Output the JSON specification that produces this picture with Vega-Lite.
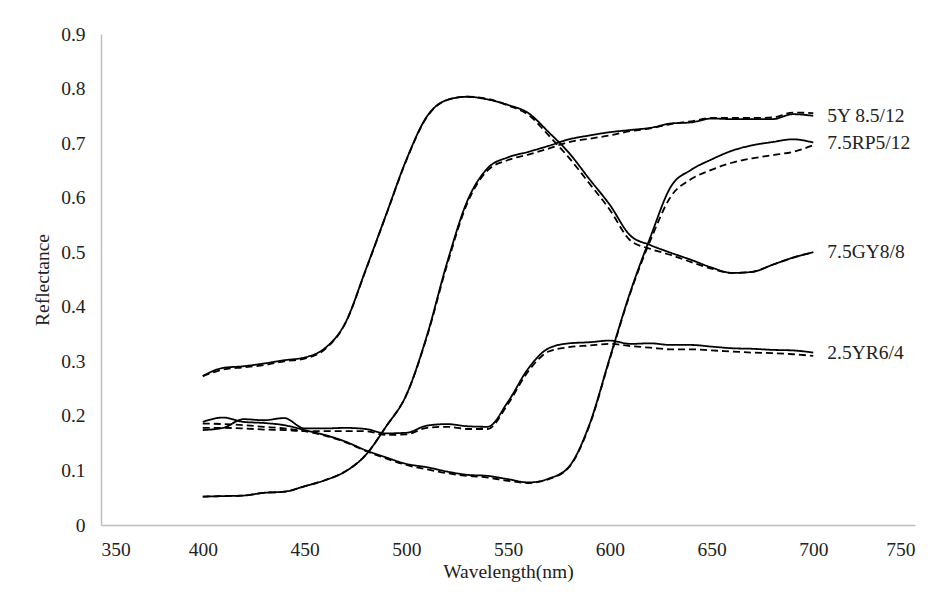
{
"$schema": "https://vega.github.io/schema/vega-lite/v6.json",
"width": 814, "height": 491,
"autosize": {"type": "none"},
"padding": {"left": 101, "top": 34, "right": 31, "bottom": 83},
"background": "white",
"config": {"view": {"stroke": null}, "font": "'Liberation Serif', 'Times New Roman', serif"},
"data": {"values": [
{"s":"7.5GY8/8","t":"m","w":400,"r":0.273},{"s":"7.5GY8/8","t":"m","w":410,"r":0.288},{"s":"7.5GY8/8","t":"m","w":420,"r":0.291},{"s":"7.5GY8/8","t":"m","w":430,"r":0.296},{"s":"7.5GY8/8","t":"m","w":440,"r":0.302},{"s":"7.5GY8/8","t":"m","w":450,"r":0.307},{"s":"7.5GY8/8","t":"m","w":460,"r":0.324},{"s":"7.5GY8/8","t":"m","w":470,"r":0.370},{"s":"7.5GY8/8","t":"m","w":480,"r":0.467},{"s":"7.5GY8/8","t":"m","w":490,"r":0.568},{"s":"7.5GY8/8","t":"m","w":500,"r":0.669},{"s":"7.5GY8/8","t":"m","w":510,"r":0.748},{"s":"7.5GY8/8","t":"m","w":520,"r":0.779},{"s":"7.5GY8/8","t":"m","w":530,"r":0.785},{"s":"7.5GY8/8","t":"m","w":540,"r":0.780},{"s":"7.5GY8/8","t":"m","w":550,"r":0.770},{"s":"7.5GY8/8","t":"m","w":560,"r":0.755},{"s":"7.5GY8/8","t":"m","w":570,"r":0.720},{"s":"7.5GY8/8","t":"m","w":580,"r":0.682},{"s":"7.5GY8/8","t":"m","w":590,"r":0.634},{"s":"7.5GY8/8","t":"m","w":600,"r":0.587},{"s":"7.5GY8/8","t":"m","w":610,"r":0.531},{"s":"7.5GY8/8","t":"m","w":620,"r":0.513},{"s":"7.5GY8/8","t":"m","w":630,"r":0.499},{"s":"7.5GY8/8","t":"m","w":640,"r":0.486},{"s":"7.5GY8/8","t":"m","w":650,"r":0.472},{"s":"7.5GY8/8","t":"m","w":660,"r":0.462},{"s":"7.5GY8/8","t":"m","w":670,"r":0.464},{"s":"7.5GY8/8","t":"m","w":680,"r":0.477},{"s":"7.5GY8/8","t":"m","w":690,"r":0.490},{"s":"7.5GY8/8","t":"m","w":700,"r":0.500},
{"s":"7.5GY8/8","t":"p","w":400,"r":0.273},{"s":"7.5GY8/8","t":"p","w":410,"r":0.285},{"s":"7.5GY8/8","t":"p","w":420,"r":0.289},{"s":"7.5GY8/8","t":"p","w":430,"r":0.293},{"s":"7.5GY8/8","t":"p","w":440,"r":0.300},{"s":"7.5GY8/8","t":"p","w":450,"r":0.305},{"s":"7.5GY8/8","t":"p","w":460,"r":0.322},{"s":"7.5GY8/8","t":"p","w":470,"r":0.369},{"s":"7.5GY8/8","t":"p","w":480,"r":0.466},{"s":"7.5GY8/8","t":"p","w":490,"r":0.567},{"s":"7.5GY8/8","t":"p","w":500,"r":0.668},{"s":"7.5GY8/8","t":"p","w":510,"r":0.747},{"s":"7.5GY8/8","t":"p","w":520,"r":0.779},{"s":"7.5GY8/8","t":"p","w":530,"r":0.785},{"s":"7.5GY8/8","t":"p","w":540,"r":0.781},{"s":"7.5GY8/8","t":"p","w":550,"r":0.769},{"s":"7.5GY8/8","t":"p","w":560,"r":0.752},{"s":"7.5GY8/8","t":"p","w":570,"r":0.714},{"s":"7.5GY8/8","t":"p","w":580,"r":0.673},{"s":"7.5GY8/8","t":"p","w":590,"r":0.626},{"s":"7.5GY8/8","t":"p","w":600,"r":0.578},{"s":"7.5GY8/8","t":"p","w":610,"r":0.522},{"s":"7.5GY8/8","t":"p","w":620,"r":0.506},{"s":"7.5GY8/8","t":"p","w":630,"r":0.495},{"s":"7.5GY8/8","t":"p","w":640,"r":0.482},{"s":"7.5GY8/8","t":"p","w":650,"r":0.470},{"s":"7.5GY8/8","t":"p","w":660,"r":0.462},{"s":"7.5GY8/8","t":"p","w":670,"r":0.464},{"s":"7.5GY8/8","t":"p","w":680,"r":0.477},{"s":"7.5GY8/8","t":"p","w":690,"r":0.490},{"s":"7.5GY8/8","t":"p","w":700,"r":0.500},
{"s":"5Y 8.5/12","t":"m","w":400,"r":0.052},{"s":"5Y 8.5/12","t":"m","w":410,"r":0.053},{"s":"5Y 8.5/12","t":"m","w":420,"r":0.054},{"s":"5Y 8.5/12","t":"m","w":430,"r":0.059},{"s":"5Y 8.5/12","t":"m","w":440,"r":0.061},{"s":"5Y 8.5/12","t":"m","w":450,"r":0.071},{"s":"5Y 8.5/12","t":"m","w":460,"r":0.082},{"s":"5Y 8.5/12","t":"m","w":470,"r":0.098},{"s":"5Y 8.5/12","t":"m","w":480,"r":0.128},{"s":"5Y 8.5/12","t":"m","w":490,"r":0.180},{"s":"5Y 8.5/12","t":"m","w":500,"r":0.238},{"s":"5Y 8.5/12","t":"m","w":510,"r":0.345},{"s":"5Y 8.5/12","t":"m","w":520,"r":0.480},{"s":"5Y 8.5/12","t":"m","w":530,"r":0.594},{"s":"5Y 8.5/12","t":"m","w":540,"r":0.654},{"s":"5Y 8.5/12","t":"m","w":550,"r":0.674},{"s":"5Y 8.5/12","t":"m","w":560,"r":0.684},{"s":"5Y 8.5/12","t":"m","w":570,"r":0.695},{"s":"5Y 8.5/12","t":"m","w":580,"r":0.707},{"s":"5Y 8.5/12","t":"m","w":590,"r":0.714},{"s":"5Y 8.5/12","t":"m","w":600,"r":0.720},{"s":"5Y 8.5/12","t":"m","w":610,"r":0.724},{"s":"5Y 8.5/12","t":"m","w":620,"r":0.728},{"s":"5Y 8.5/12","t":"m","w":630,"r":0.736},{"s":"5Y 8.5/12","t":"m","w":640,"r":0.738},{"s":"5Y 8.5/12","t":"m","w":650,"r":0.745},{"s":"5Y 8.5/12","t":"m","w":660,"r":0.744},{"s":"5Y 8.5/12","t":"m","w":670,"r":0.744},{"s":"5Y 8.5/12","t":"m","w":680,"r":0.744},{"s":"5Y 8.5/12","t":"m","w":690,"r":0.753},{"s":"5Y 8.5/12","t":"m","w":700,"r":0.750},
{"s":"5Y 8.5/12","t":"p","w":400,"r":0.052},{"s":"5Y 8.5/12","t":"p","w":410,"r":0.053},{"s":"5Y 8.5/12","t":"p","w":420,"r":0.054},{"s":"5Y 8.5/12","t":"p","w":430,"r":0.059},{"s":"5Y 8.5/12","t":"p","w":440,"r":0.061},{"s":"5Y 8.5/12","t":"p","w":450,"r":0.071},{"s":"5Y 8.5/12","t":"p","w":460,"r":0.082},{"s":"5Y 8.5/12","t":"p","w":470,"r":0.098},{"s":"5Y 8.5/12","t":"p","w":480,"r":0.128},{"s":"5Y 8.5/12","t":"p","w":490,"r":0.180},{"s":"5Y 8.5/12","t":"p","w":500,"r":0.238},{"s":"5Y 8.5/12","t":"p","w":510,"r":0.343},{"s":"5Y 8.5/12","t":"p","w":520,"r":0.476},{"s":"5Y 8.5/12","t":"p","w":530,"r":0.590},{"s":"5Y 8.5/12","t":"p","w":540,"r":0.650},{"s":"5Y 8.5/12","t":"p","w":550,"r":0.669},{"s":"5Y 8.5/12","t":"p","w":560,"r":0.679},{"s":"5Y 8.5/12","t":"p","w":570,"r":0.690},{"s":"5Y 8.5/12","t":"p","w":580,"r":0.702},{"s":"5Y 8.5/12","t":"p","w":590,"r":0.708},{"s":"5Y 8.5/12","t":"p","w":600,"r":0.714},{"s":"5Y 8.5/12","t":"p","w":610,"r":0.722},{"s":"5Y 8.5/12","t":"p","w":620,"r":0.727},{"s":"5Y 8.5/12","t":"p","w":630,"r":0.735},{"s":"5Y 8.5/12","t":"p","w":640,"r":0.740},{"s":"5Y 8.5/12","t":"p","w":650,"r":0.746},{"s":"5Y 8.5/12","t":"p","w":660,"r":0.746},{"s":"5Y 8.5/12","t":"p","w":670,"r":0.746},{"s":"5Y 8.5/12","t":"p","w":680,"r":0.747},{"s":"5Y 8.5/12","t":"p","w":690,"r":0.756},{"s":"5Y 8.5/12","t":"p","w":700,"r":0.755},
{"s":"7.5RP5/12","t":"m","w":400,"r":0.189},{"s":"7.5RP5/12","t":"m","w":410,"r":0.197},{"s":"7.5RP5/12","t":"m","w":420,"r":0.189},{"s":"7.5RP5/12","t":"m","w":430,"r":0.187},{"s":"7.5RP5/12","t":"m","w":440,"r":0.183},{"s":"7.5RP5/12","t":"m","w":450,"r":0.174},{"s":"7.5RP5/12","t":"m","w":460,"r":0.165},{"s":"7.5RP5/12","t":"m","w":470,"r":0.153},{"s":"7.5RP5/12","t":"m","w":480,"r":0.137},{"s":"7.5RP5/12","t":"m","w":490,"r":0.124},{"s":"7.5RP5/12","t":"m","w":500,"r":0.112},{"s":"7.5RP5/12","t":"m","w":510,"r":0.106},{"s":"7.5RP5/12","t":"m","w":520,"r":0.098},{"s":"7.5RP5/12","t":"m","w":530,"r":0.092},{"s":"7.5RP5/12","t":"m","w":540,"r":0.090},{"s":"7.5RP5/12","t":"m","w":550,"r":0.084},{"s":"7.5RP5/12","t":"m","w":560,"r":0.078},{"s":"7.5RP5/12","t":"m","w":570,"r":0.085},{"s":"7.5RP5/12","t":"m","w":580,"r":0.107},{"s":"7.5RP5/12","t":"m","w":590,"r":0.184},{"s":"7.5RP5/12","t":"m","w":600,"r":0.306},{"s":"7.5RP5/12","t":"m","w":610,"r":0.426},{"s":"7.5RP5/12","t":"m","w":620,"r":0.528},{"s":"7.5RP5/12","t":"m","w":630,"r":0.620},{"s":"7.5RP5/12","t":"m","w":640,"r":0.651},{"s":"7.5RP5/12","t":"m","w":650,"r":0.670},{"s":"7.5RP5/12","t":"m","w":660,"r":0.686},{"s":"7.5RP5/12","t":"m","w":670,"r":0.696},{"s":"7.5RP5/12","t":"m","w":680,"r":0.702},{"s":"7.5RP5/12","t":"m","w":690,"r":0.707},{"s":"7.5RP5/12","t":"m","w":700,"r":0.701},
{"s":"7.5RP5/12","t":"p","w":400,"r":0.186},{"s":"7.5RP5/12","t":"p","w":410,"r":0.185},{"s":"7.5RP5/12","t":"p","w":420,"r":0.183},{"s":"7.5RP5/12","t":"p","w":430,"r":0.180},{"s":"7.5RP5/12","t":"p","w":440,"r":0.177},{"s":"7.5RP5/12","t":"p","w":450,"r":0.172},{"s":"7.5RP5/12","t":"p","w":460,"r":0.164},{"s":"7.5RP5/12","t":"p","w":470,"r":0.152},{"s":"7.5RP5/12","t":"p","w":480,"r":0.136},{"s":"7.5RP5/12","t":"p","w":490,"r":0.122},{"s":"7.5RP5/12","t":"p","w":500,"r":0.110},{"s":"7.5RP5/12","t":"p","w":510,"r":0.102},{"s":"7.5RP5/12","t":"p","w":520,"r":0.095},{"s":"7.5RP5/12","t":"p","w":530,"r":0.090},{"s":"7.5RP5/12","t":"p","w":540,"r":0.087},{"s":"7.5RP5/12","t":"p","w":550,"r":0.081},{"s":"7.5RP5/12","t":"p","w":560,"r":0.077},{"s":"7.5RP5/12","t":"p","w":570,"r":0.084},{"s":"7.5RP5/12","t":"p","w":580,"r":0.106},{"s":"7.5RP5/12","t":"p","w":590,"r":0.182},{"s":"7.5RP5/12","t":"p","w":600,"r":0.304},{"s":"7.5RP5/12","t":"p","w":610,"r":0.424},{"s":"7.5RP5/12","t":"p","w":620,"r":0.522},{"s":"7.5RP5/12","t":"p","w":630,"r":0.602},{"s":"7.5RP5/12","t":"p","w":640,"r":0.634},{"s":"7.5RP5/12","t":"p","w":650,"r":0.651},{"s":"7.5RP5/12","t":"p","w":660,"r":0.664},{"s":"7.5RP5/12","t":"p","w":670,"r":0.672},{"s":"7.5RP5/12","t":"p","w":680,"r":0.678},{"s":"7.5RP5/12","t":"p","w":690,"r":0.684},{"s":"7.5RP5/12","t":"p","w":700,"r":0.696},
{"s":"2.5YR6/4","t":"m","w":400,"r":0.174},{"s":"2.5YR6/4","t":"m","w":410,"r":0.178},{"s":"2.5YR6/4","t":"m","w":420,"r":0.194},{"s":"2.5YR6/4","t":"m","w":430,"r":0.192},{"s":"2.5YR6/4","t":"m","w":440,"r":0.196},{"s":"2.5YR6/4","t":"m","w":450,"r":0.177},{"s":"2.5YR6/4","t":"m","w":460,"r":0.177},{"s":"2.5YR6/4","t":"m","w":470,"r":0.178},{"s":"2.5YR6/4","t":"m","w":480,"r":0.176},{"s":"2.5YR6/4","t":"m","w":490,"r":0.168},{"s":"2.5YR6/4","t":"m","w":500,"r":0.169},{"s":"2.5YR6/4","t":"m","w":510,"r":0.182},{"s":"2.5YR6/4","t":"m","w":520,"r":0.185},{"s":"2.5YR6/4","t":"m","w":530,"r":0.181},{"s":"2.5YR6/4","t":"m","w":540,"r":0.180},{"s":"2.5YR6/4","t":"m","w":550,"r":0.226},{"s":"2.5YR6/4","t":"m","w":560,"r":0.287},{"s":"2.5YR6/4","t":"m","w":570,"r":0.324},{"s":"2.5YR6/4","t":"m","w":580,"r":0.333},{"s":"2.5YR6/4","t":"m","w":590,"r":0.335},{"s":"2.5YR6/4","t":"m","w":600,"r":0.338},{"s":"2.5YR6/4","t":"m","w":610,"r":0.332},{"s":"2.5YR6/4","t":"m","w":620,"r":0.333},{"s":"2.5YR6/4","t":"m","w":630,"r":0.330},{"s":"2.5YR6/4","t":"m","w":640,"r":0.330},{"s":"2.5YR6/4","t":"m","w":650,"r":0.327},{"s":"2.5YR6/4","t":"m","w":660,"r":0.324},{"s":"2.5YR6/4","t":"m","w":670,"r":0.323},{"s":"2.5YR6/4","t":"m","w":680,"r":0.321},{"s":"2.5YR6/4","t":"m","w":690,"r":0.320},{"s":"2.5YR6/4","t":"m","w":700,"r":0.316},
{"s":"2.5YR6/4","t":"p","w":400,"r":0.178},{"s":"2.5YR6/4","t":"p","w":410,"r":0.178},{"s":"2.5YR6/4","t":"p","w":420,"r":0.177},{"s":"2.5YR6/4","t":"p","w":430,"r":0.175},{"s":"2.5YR6/4","t":"p","w":440,"r":0.174},{"s":"2.5YR6/4","t":"p","w":450,"r":0.172},{"s":"2.5YR6/4","t":"p","w":460,"r":0.172},{"s":"2.5YR6/4","t":"p","w":470,"r":0.172},{"s":"2.5YR6/4","t":"p","w":480,"r":0.172},{"s":"2.5YR6/4","t":"p","w":490,"r":0.165},{"s":"2.5YR6/4","t":"p","w":500,"r":0.166},{"s":"2.5YR6/4","t":"p","w":510,"r":0.178},{"s":"2.5YR6/4","t":"p","w":520,"r":0.180},{"s":"2.5YR6/4","t":"p","w":530,"r":0.176},{"s":"2.5YR6/4","t":"p","w":540,"r":0.176},{"s":"2.5YR6/4","t":"p","w":550,"r":0.222},{"s":"2.5YR6/4","t":"p","w":560,"r":0.282},{"s":"2.5YR6/4","t":"p","w":570,"r":0.318},{"s":"2.5YR6/4","t":"p","w":580,"r":0.326},{"s":"2.5YR6/4","t":"p","w":590,"r":0.329},{"s":"2.5YR6/4","t":"p","w":600,"r":0.332},{"s":"2.5YR6/4","t":"p","w":610,"r":0.328},{"s":"2.5YR6/4","t":"p","w":620,"r":0.325},{"s":"2.5YR6/4","t":"p","w":630,"r":0.322},{"s":"2.5YR6/4","t":"p","w":640,"r":0.322},{"s":"2.5YR6/4","t":"p","w":650,"r":0.320},{"s":"2.5YR6/4","t":"p","w":660,"r":0.318},{"s":"2.5YR6/4","t":"p","w":670,"r":0.316},{"s":"2.5YR6/4","t":"p","w":680,"r":0.315},{"s":"2.5YR6/4","t":"p","w":690,"r":0.313},{"s":"2.5YR6/4","t":"p","w":700,"r":0.310}
]},
"encoding": {
  "x": {"field": "w", "type": "quantitative", "scale": {"domain": [350, 750], "nice": false, "zero": false},
        "axis": {"title": "Wavelength(nm)", "values": [350,400,450,500,550,600,650,700,750], "grid": false, "ticks": false,
                 "domainColor": "#bfbfbf", "domainWidth": 1.5, "labelFont": "'Liberation Serif', 'Times New Roman', serif", "labelFontSize": 19.5, "labelColor": "#222",
                 "labelPadding": 15, "titleFont": "'Liberation Serif', 'Times New Roman', serif", "titleFontSize": 19.5, "titleFontWeight": "normal", "titleColor": "#222", "titlePadding": 4}},
  "y": {"field": "r", "type": "quantitative", "scale": {"domain": [0, 0.9], "nice": false},
        "axis": {"title": "Reflectance", "format": "~g", "values": [0,0.1,0.2,0.3,0.4,0.5,0.6,0.7,0.8,0.9], "grid": false, "ticks": false,
                 "domainColor": "#bfbfbf", "domainWidth": 1.5, "labelFont": "'Liberation Serif', 'Times New Roman', serif", "labelFontSize": 19.5, "labelColor": "#222",
                 "labelPadding": 16, "titleFont": "'Liberation Serif', 'Times New Roman', serif", "titleFontSize": 19.5, "titleFontWeight": "normal", "titleColor": "#222", "titlePadding": 8}}
},
"layer": [
  {"mark": {"type": "line", "interpolate": "monotone", "strokeWidth": 1.8, "color": "black"},
   "encoding": {
     "detail": [{"field": "s"}, {"field": "t"}],
     "strokeDash": {"field": "t", "type": "nominal", "scale": {"domain": ["m", "p"], "range": [[1, 0], [7, 4]]}, "legend": null}
   }},
  {"transform": [{"filter": "datum.t == 'm' && datum.w == 700"}],
   "mark": {"type": "text", "align": "left", "baseline": "middle", "dx": 14, "font": "'Liberation Serif', 'Times New Roman', serif", "fontSize": 19.5, "color": "#222"},
   "encoding": {"text": {"field": "s"}}}
]
}
